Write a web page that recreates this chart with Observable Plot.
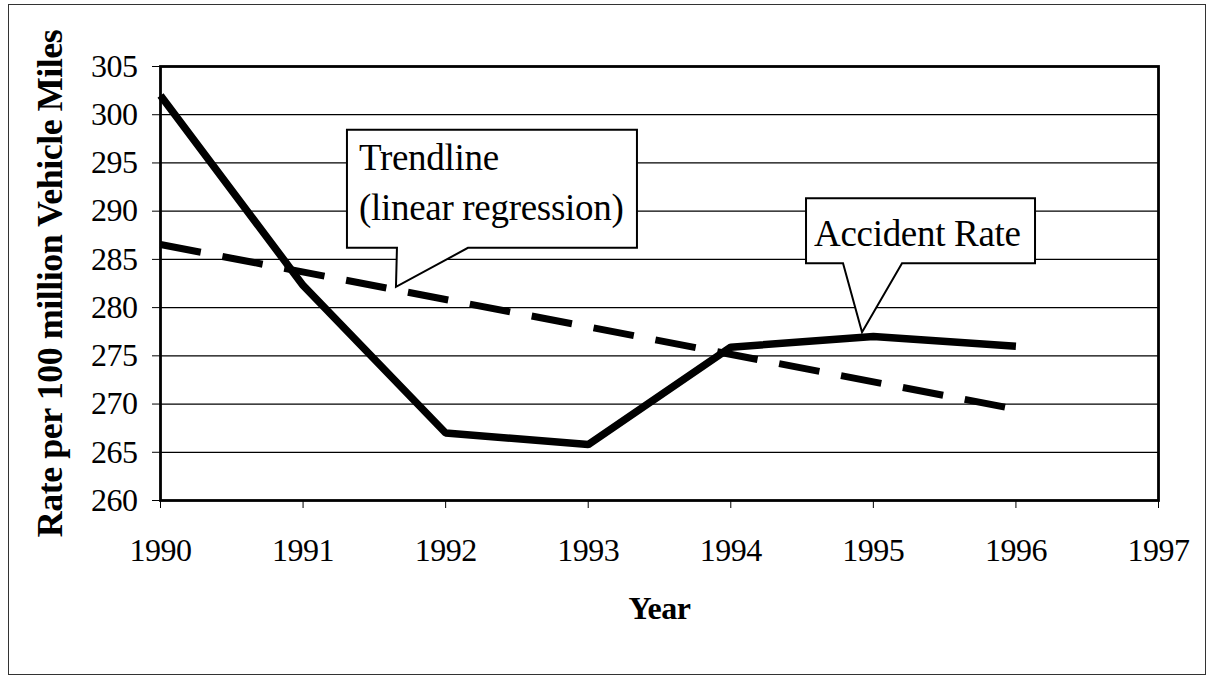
<!DOCTYPE html>
<html>
<head>
<meta charset="utf-8">
<script src="https://cdn.jsdelivr.net/npm/d3@7"></script>
<script src="https://cdn.jsdelivr.net/npm/@observablehq/plot@0.6"></script>
<style>
  body { margin: 0; background: #fff; }
  #wrap { position: relative; width: 1213px; height: 677px; background: #fff; }
  #outer { position: absolute; left: 8px; top: 4px; width: 1196px; height: 669px; border: 1.5px solid #333; pointer-events: none; }
</style>
</head>
<body>
<div id="wrap"><div id="outer"></div></div>
<script>
// ---- data ----
const years = [1990, 1991, 1992, 1993, 1994, 1995, 1996];
const accidentRate = [302, 282.3, 267, 265.8, 275.9, 277.0, 276.0];
const xTicks = [1990, 1991, 1992, 1993, 1994, 1995, 1996, 1997];
const yTicks = [260, 265, 270, 275, 280, 285, 290, 295, 300, 305];
const xLabel = "Year";
const yLabel = "Rate per 100 million Vehicle Miles";
const trendCalloutLines = ["Trendline", "(linear regression)"];
const rateCalloutLines = ["Accident Rate"];

const data = years.map((year, i) => ({year, rate: accidentRate[i]}));

// ---- callout layout (anchor in data space, box offsets in pixels) ----
const callouts = [
  {lines: trendCalloutLines, x: 1991.655, y: 282.1,
   box: [-49, 241, -157, -39], base: [1, 72], pad: 12, first: 40, lh: 50},
  {lines: rateCalloutLines, x: 1994.924, y: 277.4,
   box: [-56, 173, -134, -69], base: [-19, 40], pad: 8, first: 48, lh: 50}
];

const serif = "'Liberation Serif','Times New Roman',Times,serif";

function calloutMark(cfg) {
  return (index, scales, values, dims, context) => {
    const g = d3.create("svg:g");
    for (const c of cfg) {
      const tx = scales.x(c.x), ty = scales.y(c.y);
      const L = tx + c.box[0], R = tx + c.box[1], T = ty + c.box[2], B = ty + c.box[3];
      const p1 = tx + c.base[0], p2 = tx + c.base[1];
      g.append("path")
        .attr("d", `M${L},${T}H${R}V${B}H${p2}L${tx},${ty}L${p1},${B}H${L}Z`)
        .attr("fill", "white").attr("stroke", "black").attr("stroke-width", 2)
        .attr("stroke-linejoin", "miter");
      c.lines.forEach((t, i) => {
        g.append("text")
          .attr("x", L + c.pad).attr("y", T + c.first + i * c.lh)
          .attr("text-anchor", "start")
          .attr("font-family", serif).attr("font-size", 37)
          .attr("letter-spacing", "-0.3px")
          .attr("fill", "black").text(t);
      });
    }
    return g.node();
  };
}

const plot = Plot.plot({
  width: 1213,
  height: 677,
  marginLeft: 160,
  marginRight: 55,
  marginTop: 66,
  marginBottom: 177,
  style: {fontFamily: serif, fontSize: "32px", color: "black", background: "transparent", letterSpacing: "-0.5px"},
  x: {domain: [1990, 1997], ticks: xTicks, tickFormat: d => String(d), tickSize: 8, tickPadding: 30, label: null},
  y: {domain: [260, 305], ticks: yTicks, tickSize: 8, tickPadding: 15, label: null},
  marks: [
    Plot.ruleY(yTicks.slice(1, -1), {stroke: "black", strokeWidth: 1.2}),
    Plot.frame({stroke: "black", strokeWidth: 2.8}),
    Plot.linearRegressionY(data, {x: "year", y: "rate", ci: 0, stroke: "black", strokeWidth: 7, strokeDasharray: "41,22", strokeLinecap: "butt"}),
    Plot.lineY(data, {x: "year", y: "rate", stroke: "black", strokeWidth: 7.5, strokeLinejoin: "miter", strokeLinecap: "butt"}),
    calloutMark(callouts),
    Plot.text([xLabel], {text: d => d, frameAnchor: "bottom", textAnchor: "middle", dy: 118, fontWeight: "bold", fontSize: 32, fill: "black"}),
    Plot.text([yLabel], {text: d => d, frameAnchor: "left", textAnchor: "middle", dx: -110, rotate: -90, fontWeight: "bold", fontSize: 36, fill: "black"})
  ]
});

document.getElementById("wrap").prepend(plot);
</script>
</body>
</html>
